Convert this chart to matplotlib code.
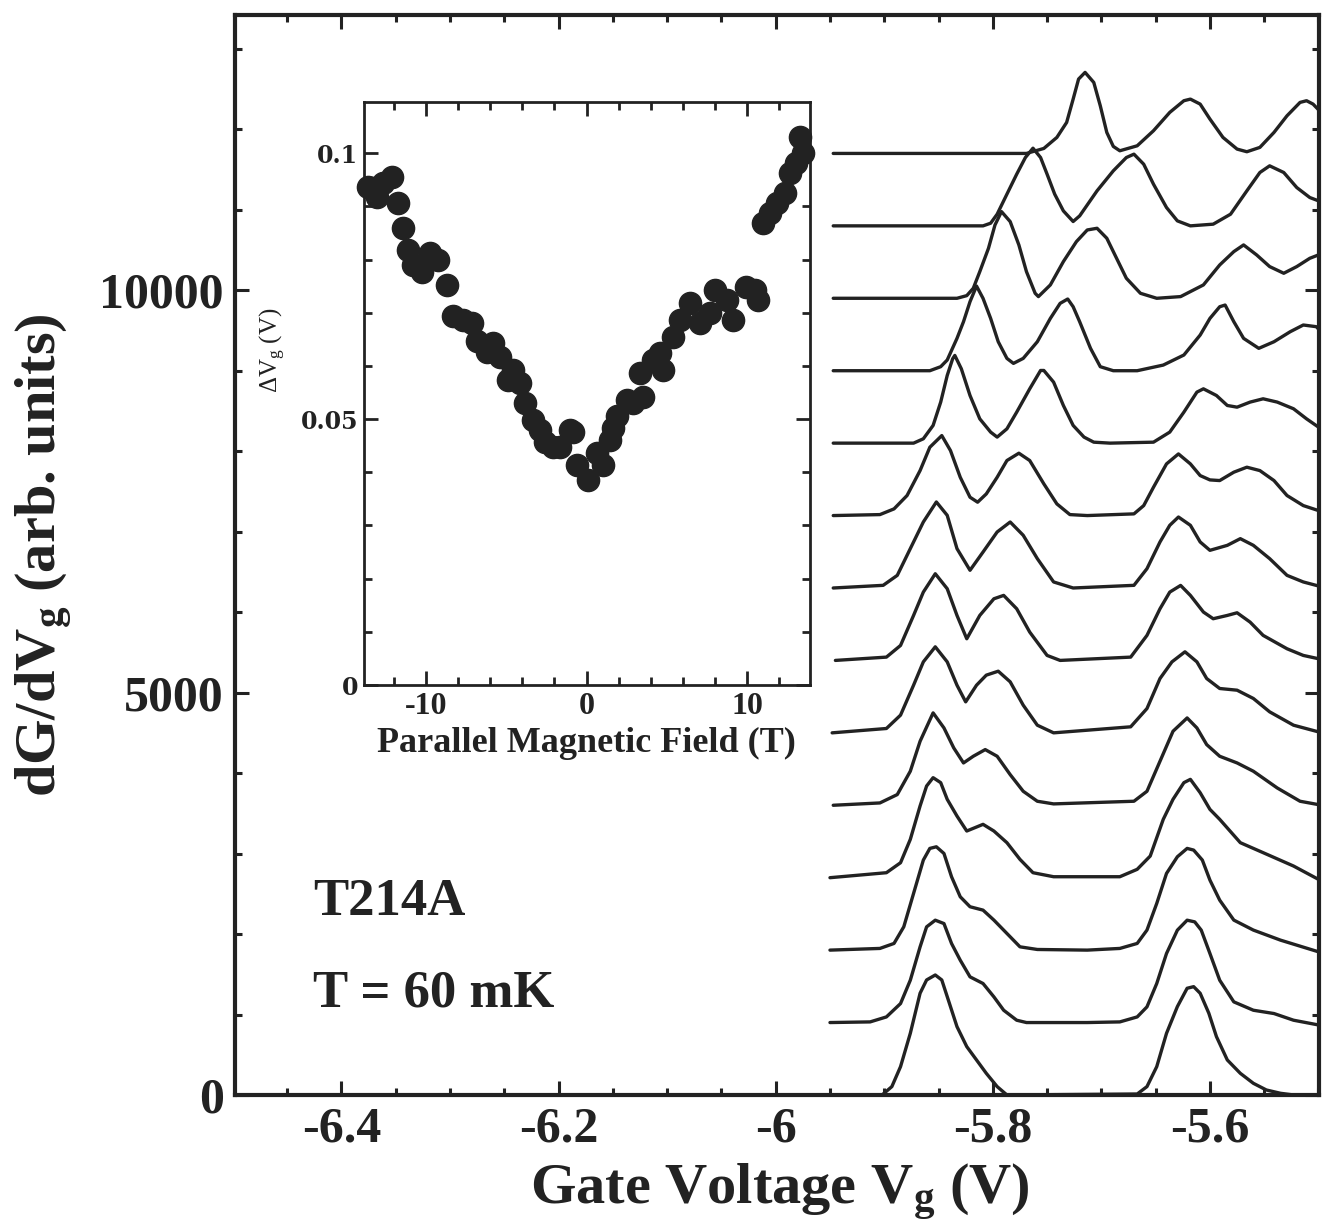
import matplotlib
matplotlib.use("Agg")
import matplotlib.pyplot as plt
from matplotlib.ticker import MultipleLocator

# stacked dG/dVg traces: (gate voltage V, signal above own baseline)
TRACE_00 = [(-5.902, 0), (-5.893, 104), (-5.885, 352), (-5.876, 766), (-5.867, 1264), (-5.861, 1429),
            (-5.853, 1491), (-5.847, 1429), (-5.841, 1181), (-5.833, 849), (-5.824, 601), (-5.815, 435),
            (-5.806, 269), (-5.796, 104), (-5.787, 0), (-5.667, 12), (-5.658, 104), (-5.649, 352),
            (-5.640, 766), (-5.630, 1098), (-5.621, 1326), (-5.615, 1346), (-5.609, 1264), (-5.601, 1015),
            (-5.594, 725), (-5.584, 435), (-5.572, 269), (-5.560, 145), (-5.548, 62), (-5.535, 21),
            (-5.523, 0), (-5.500, 0)]
TRACE_01 = [(-5.950, 0), (-5.913, 8), (-5.898, 70), (-5.885, 236), (-5.876, 526), (-5.867, 940),
            (-5.861, 1189), (-5.853, 1272), (-5.845, 1230), (-5.838, 982), (-5.830, 775), (-5.821, 568),
            (-5.809, 485), (-5.799, 319), (-5.790, 153), (-5.778, 29), (-5.769, 0), (-5.713, 0),
            (-5.683, 8), (-5.667, 70), (-5.658, 195), (-5.649, 485), (-5.640, 858), (-5.630, 1148),
            (-5.621, 1272), (-5.614, 1251), (-5.608, 1148), (-5.600, 858), (-5.591, 526), (-5.578, 257),
            (-5.560, 153), (-5.541, 112), (-5.523, 29), (-5.500, -30)]
TRACE_02 = [(-5.950, 0), (-5.904, 21), (-5.891, 83), (-5.882, 290), (-5.873, 704), (-5.864, 1119),
            (-5.858, 1264), (-5.852, 1284), (-5.845, 1201), (-5.838, 911), (-5.830, 663), (-5.821, 539),
            (-5.809, 497), (-5.799, 373), (-5.787, 207), (-5.775, 41), (-5.759, 8), (-5.713, 0),
            (-5.683, 21), (-5.667, 83), (-5.658, 249), (-5.649, 580), (-5.640, 953), (-5.630, 1160),
            (-5.621, 1264), (-5.615, 1243), (-5.607, 1119), (-5.600, 870), (-5.591, 621), (-5.578, 373),
            (-5.560, 249), (-5.535, 124), (-5.500, -21)]
TRACE_03 = [(-5.950, 0), (-5.898, 62), (-5.885, 186), (-5.876, 476), (-5.867, 891), (-5.861, 1139),
            (-5.855, 1243), (-5.848, 1181), (-5.842, 974), (-5.833, 766), (-5.824, 580), (-5.809, 663),
            (-5.799, 580), (-5.787, 435), (-5.775, 228), (-5.763, 62), (-5.744, 12), (-5.683, 12),
            (-5.667, 104), (-5.655, 269), (-5.643, 725), (-5.634, 974), (-5.624, 1181), (-5.618, 1222),
            (-5.609, 1056), (-5.600, 849), (-5.591, 725), (-5.572, 435), (-5.551, 311), (-5.523, 145),
            (-5.500, -21)]
TRACE_04 = [(-5.947, 0), (-5.904, 29), (-5.888, 133), (-5.876, 423), (-5.867, 795), (-5.855, 1148),
            (-5.845, 961), (-5.836, 713), (-5.827, 526), (-5.818, 609), (-5.807, 692), (-5.796, 609),
            (-5.784, 381), (-5.772, 174), (-5.759, 50), (-5.744, 17), (-5.670, 50), (-5.658, 174),
            (-5.646, 547), (-5.634, 920), (-5.621, 1085), (-5.612, 961), (-5.603, 754), (-5.591, 609),
            (-5.575, 526), (-5.560, 423), (-5.538, 215), (-5.517, 50), (-5.500, 8)]
TRACE_05 = [(-5.948, 0), (-5.898, 54), (-5.885, 220), (-5.873, 592), (-5.864, 882), (-5.853, 1069),
            (-5.842, 882), (-5.833, 592), (-5.825, 385), (-5.815, 592), (-5.806, 717), (-5.795, 766),
            (-5.784, 634), (-5.772, 344), (-5.759, 95), (-5.744, 0), (-5.673, 75), (-5.658, 302),
            (-5.646, 675), (-5.635, 882), (-5.623, 1007), (-5.612, 882), (-5.603, 675), (-5.591, 551),
            (-5.575, 530), (-5.560, 427), (-5.545, 261), (-5.523, 95), (-5.500, 12)]
TRACE_06 = [(-5.945, 0), (-5.898, 41), (-5.885, 186), (-5.873, 559), (-5.864, 849), (-5.853, 1077),
            (-5.842, 891), (-5.833, 559), (-5.824, 269), (-5.812, 559), (-5.799, 766), (-5.790, 808),
            (-5.778, 642), (-5.766, 352), (-5.750, 62), (-5.738, 0), (-5.673, 41), (-5.658, 311),
            (-5.646, 642), (-5.637, 849), (-5.627, 932), (-5.618, 808), (-5.606, 601), (-5.597, 518),
            (-5.584, 559), (-5.575, 592), (-5.563, 476), (-5.551, 311), (-5.529, 145), (-5.514, 62),
            (-5.500, 21)]
TRACE_07 = [(-5.947, 0), (-5.901, 33), (-5.888, 157), (-5.876, 489), (-5.864, 820), (-5.852, 1069),
            (-5.842, 903), (-5.833, 489), (-5.821, 220), (-5.809, 447), (-5.796, 696), (-5.784, 820),
            (-5.772, 655), (-5.759, 365), (-5.744, 75), (-5.726, 0), (-5.670, 33), (-5.658, 240),
            (-5.646, 572), (-5.637, 779), (-5.629, 882), (-5.618, 779), (-5.609, 572), (-5.600, 468),
            (-5.584, 530), (-5.572, 613), (-5.560, 530), (-5.545, 365), (-5.529, 157), (-5.514, 75),
            (-5.500, 25)]
TRACE_08 = [(-5.947, 0), (-5.904, 12), (-5.891, 83), (-5.879, 249), (-5.867, 559), (-5.858, 849),
            (-5.847, 994), (-5.839, 808), (-5.830, 476), (-5.821, 228), (-5.814, 166), (-5.806, 269),
            (-5.796, 476), (-5.787, 684), (-5.776, 775), (-5.766, 684), (-5.753, 394), (-5.741, 145),
            (-5.729, 12), (-5.713, 0), (-5.670, 21), (-5.661, 124), (-5.652, 352), (-5.640, 642),
            (-5.629, 766), (-5.618, 642), (-5.609, 497), (-5.600, 443), (-5.591, 435), (-5.578, 539),
            (-5.566, 601), (-5.554, 559), (-5.541, 435), (-5.529, 249), (-5.514, 124), (-5.500, 62)]
TRACE_09 = [(-5.947, 0), (-5.873, 0), (-5.864, 54), (-5.855, 220), (-5.848, 510), (-5.842, 841),
            (-5.837, 1048), (-5.835, 1090), (-5.829, 924), (-5.821, 592), (-5.812, 302), (-5.802, 137),
            (-5.796, 75), (-5.787, 178), (-5.778, 385), (-5.766, 675), (-5.756, 903), (-5.753, 903),
            (-5.744, 758), (-5.735, 468), (-5.726, 220), (-5.716, 75), (-5.707, 12), (-5.692, 0),
            (-5.652, 12), (-5.637, 137), (-5.624, 385), (-5.612, 634), (-5.606, 675), (-5.594, 592),
            (-5.584, 468), (-5.575, 447), (-5.563, 510), (-5.551, 551), (-5.538, 510), (-5.523, 427),
            (-5.511, 302), (-5.500, 199)]
TRACE_10 = [(-5.947, 0), (-5.858, 0), (-5.848, 50), (-5.842, 133), (-5.833, 402), (-5.827, 609),
            (-5.821, 858), (-5.815, 1052), (-5.809, 899), (-5.802, 650), (-5.795, 360), (-5.787, 153),
            (-5.781, 91), (-5.772, 153), (-5.759, 360), (-5.747, 650), (-5.738, 837), (-5.731, 891),
            (-5.726, 795), (-5.720, 609), (-5.710, 278), (-5.701, 50), (-5.689, 0), (-5.667, 0),
            (-5.643, 70), (-5.624, 195), (-5.609, 443), (-5.600, 650), (-5.591, 795), (-5.586, 816),
            (-5.578, 609), (-5.569, 402), (-5.555, 278), (-5.541, 360), (-5.526, 485), (-5.514, 568),
            (-5.502, 547), (-5.500, 518)]
TRACE_11 = [(-5.947, 0), (-5.833, 0), (-5.824, 33), (-5.818, 124), (-5.812, 331), (-5.804, 621),
            (-5.798, 911), (-5.792, 1077), (-5.784, 953), (-5.776, 663), (-5.769, 331), (-5.761, 62),
            (-5.758, 21), (-5.747, 166), (-5.735, 456), (-5.723, 704), (-5.713, 849), (-5.704, 870),
            (-5.695, 746), (-5.686, 497), (-5.677, 249), (-5.664, 62), (-5.649, 0), (-5.627, 21),
            (-5.606, 166), (-5.591, 414), (-5.578, 580), (-5.569, 663), (-5.557, 539), (-5.545, 394),
            (-5.532, 311), (-5.520, 394), (-5.508, 497), (-5.500, 539)]
TRACE_12 = [(-5.947, 0), (-5.809, 0), (-5.802, 33), (-5.796, 145), (-5.787, 394), (-5.778, 642),
            (-5.770, 849), (-5.763, 965), (-5.756, 849), (-5.750, 642), (-5.743, 394), (-5.735, 186),
            (-5.726, 54), (-5.720, 124), (-5.704, 435), (-5.689, 684), (-5.677, 849), (-5.670, 891),
            (-5.661, 766), (-5.652, 518), (-5.640, 228), (-5.630, 62), (-5.618, 0), (-5.597, 21),
            (-5.581, 145), (-5.566, 435), (-5.554, 663), (-5.545, 746), (-5.532, 663), (-5.520, 476),
            (-5.508, 352), (-5.500, 311)]
TRACE_13 = [(-5.947, 0), (-5.769, 0), (-5.753, 62), (-5.741, 199), (-5.732, 385), (-5.726, 675),
            (-5.721, 924), (-5.715, 1007), (-5.707, 882), (-5.701, 592), (-5.695, 261), (-5.689, 87),
            (-5.683, 33), (-5.667, 95), (-5.652, 282), (-5.637, 510), (-5.624, 655), (-5.618, 675),
            (-5.609, 613), (-5.600, 427), (-5.588, 199), (-5.575, 54), (-5.566, 21), (-5.554, 75),
            (-5.541, 261), (-5.529, 468), (-5.517, 634), (-5.511, 655), (-5.505, 613), (-5.500, 543)]

TRACES = [TRACE_00, TRACE_01, TRACE_02, TRACE_03, TRACE_04, TRACE_05, TRACE_06,
          TRACE_07, TRACE_08, TRACE_09, TRACE_10, TRACE_11, TRACE_12, TRACE_13]
OFFSETS = [0, 900, 1800, 2700, 3600, 4500, 5400, 6300, 7200, 8100, 9000, 9900, 10800, 11700]

# inset: peak splitting vs parallel field
B_FIELD = [-13.6, -13.37, -13.06, -12.65, -12.13, -11.72, -11.41, -11.09, -10.78, -10.26,
           -9.74, -9.23, -8.71, -8.30, -7.67, -7.15, -6.84, -6.22, -5.81, -5.39,
           -4.88, -4.56, -4.15, -3.84, -3.32, -2.90, -2.59, -2.07, -1.66, -1.04,
           -0.83, -0.62, 0.10, 0.62, 1.03, 1.45, 1.65, 1.87, 2.49, 2.90,
           3.31, 3.52, 4.14, 4.56, 4.76, 5.39, 5.80, 6.42, 7.05, 7.67,
           7.98, 8.71, 9.12, 9.95, 10.47, 10.67, 10.98, 11.40, 11.82, 12.33,
           12.64, 13.06, 13.27, 13.47]
DELTA_VG = [0.0936, 0.0934, 0.0918, 0.0944, 0.0955, 0.0907, 0.0859, 0.0818, 0.0790, 0.0777,
            0.0812, 0.0799, 0.0752, 0.0693, 0.0686, 0.0680, 0.0646, 0.0627, 0.0643, 0.0617,
            0.0574, 0.0592, 0.0567, 0.0530, 0.0498, 0.0480, 0.0457, 0.0448, 0.0448, 0.0480,
            0.0476, 0.0414, 0.0386, 0.0436, 0.0414, 0.0461, 0.0483, 0.0505, 0.0536, 0.0530,
            0.0586, 0.0542, 0.0611, 0.0624, 0.0592, 0.0655, 0.0686, 0.0718, 0.0680, 0.0699,
            0.0743, 0.0724, 0.0686, 0.0749, 0.0743, 0.0724, 0.0868, 0.0887, 0.0906, 0.0925,
            0.0962, 0.0981, 0.1031, 0.1000]

X_TICKS = [-6.4, -6.2, -6.0, -5.8, -5.6]
X_TICK_LABELS = ["-6.4", "-6.2", "-6", "-5.8", "-5.6"]
Y_TICKS = [0, 5000, 10000]
Y_TICK_LABELS = ["0", "5000", "10000"]
IN_X_TICKS = [-10, 0, 10]
IN_X_TICK_LABELS = ["-10", "0", "10"]
IN_Y_TICKS = [0, 0.05, 0.1]
IN_Y_TICK_LABELS = ["0", "0.05", "0.1"]

INK = "#222222"

plt.rcParams["font.family"] = ["Liberation Serif", "DejaVu Serif"]
plt.rcParams["mathtext.fontset"] = "custom"
plt.rcParams["mathtext.rm"] = "Liberation Serif"
plt.rcParams["mathtext.it"] = "Liberation Serif:italic"
plt.rcParams["mathtext.bf"] = "Liberation Serif:bold"
plt.rcParams["axes.unicode_minus"] = False

fig = plt.figure(figsize=(13.25, 12.31), dpi=100)

# main panel
ax = fig.add_axes([0.1774, 0.1105, 0.8181, 0.8773])
for off, trace in zip(OFFSETS, TRACES):
    vg = [p[0] for p in trace]
    sig = [p[1] + off for p in trace]
    ax.plot(vg, sig, color=INK, lw=2.4, solid_joinstyle="round", solid_capstyle="round")

ax.set_xlim(-6.498, -5.4995)
ax.set_ylim(0, 13420)
ax.set_xticks(X_TICKS)
ax.set_xticklabels(X_TICK_LABELS)
ax.set_yticks(Y_TICKS)
ax.set_yticklabels(Y_TICK_LABELS)
ax.xaxis.set_minor_locator(MultipleLocator(0.05))
ax.yaxis.set_minor_locator(MultipleLocator(1000))
ax.tick_params(which="both", direction="in", top=True, right=True, width=2.2, colors=INK)
ax.tick_params(which="major", length=10, labelsize=36, pad=8)
ax.tick_params(which="minor", length=5)
for lab in ax.get_xticklabels() + ax.get_yticklabels():
    lab.set_fontweight("bold")
for sp in ax.spines.values():
    sp.set_linewidth(3)
    sp.set_color(INK)

ax.set_xlabel(r"Gate Voltage V$_{\mathbf{g}}$ (V)", fontsize=42, fontweight="bold", color=INK)
ax.xaxis.set_label_coords(0.503, -0.062)
ax.set_ylabel(r"dG/dV$_{\mathbf{g}}$ (arb. units)", fontsize=42, fontweight="bold", color=INK)
ax.yaxis.set_label_coords(-0.148, 0.5)

ax.text(-6.426, 2237, "T214A", fontsize=38, fontweight="bold", va="baseline", color=INK)
ax.text(-6.426, 1094, "T = 60 mK", fontsize=38, fontweight="bold", va="baseline", color=INK)

# inset
axin = fig.add_axes([0.2747, 0.4435, 0.3366, 0.4736])
axin.plot(B_FIELD, DELTA_VG, "o", ms=16, color=INK, mec=INK, clip_on=False)
axin.set_xlim(-13.85, 13.9)
axin.set_ylim(0, 0.1096)
axin.set_xticks(IN_X_TICKS)
axin.set_xticklabels(IN_X_TICK_LABELS)
axin.set_yticks(IN_Y_TICKS)
axin.set_yticklabels(IN_Y_TICK_LABELS)
axin.xaxis.set_minor_locator(MultipleLocator(2))
axin.yaxis.set_minor_locator(MultipleLocator(0.01))
axin.tick_params(which="both", direction="in", top=True, right=True, width=2, colors=INK)
axin.tick_params(which="major", length=10, pad=5)
axin.tick_params(which="minor", length=6)
axin.tick_params(axis="x", labelsize=23)
axin.tick_params(axis="y", labelsize=17, pad=4)
for lab in axin.get_xticklabels():
    lab.set_fontweight("bold")
for lab in axin.get_yticklabels():
    lab.set_fontweight("bold")
    lab.set_family("DejaVu Serif")
for sp in axin.spines.values():
    sp.set_linewidth(2)
    sp.set_color(INK)

axin.set_xlabel("Parallel Magnetic Field (T)", fontsize=26, fontweight="bold", color=INK)
axin.xaxis.set_label_coords(0.499, -0.072)
axin.set_ylabel(r"ΔV$_{\mathrm{g}}$ (V)", fontsize=18, color=INK)
axin.yaxis.set_label_coords(-0.17, 0.575)

fig.savefig("out.png", dpi=100)
